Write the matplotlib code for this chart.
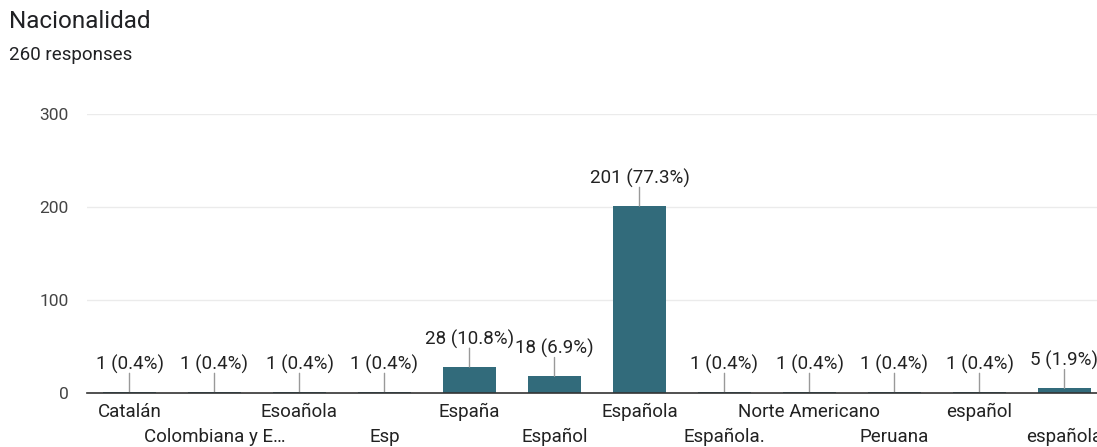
import matplotlib.pyplot as plt
import numpy as np

plt.rcParams['font.family'] = ['Roboto', 'DejaVu Sans']

categories = ['Catalán', 'Colombiana y E…', 'Esoañola', 'Esp', 'España', 'Español',
              'Española', 'Española.', 'Norte Americano', 'Peruana', 'español', 'española']
counts = [1, 1, 1, 1, 28, 18, 201, 1, 1, 1, 1, 5]
total = 260
yticks = [0, 100, 200, 300]

bar_color = '#326b7b'
text_color = '#444444'

fig = plt.figure(figsize=(10.97, 4.47), dpi=100)
fig.text(9 / 1097, 1 - 21 / 447, 'Nacionalidad', fontsize=17.5, color='#202124', va='center')
fig.text(9 / 1097, 1 - 55 / 447, '260 responses', fontsize=13.5, color='#202124', va='center')

# axes run past the right edge, like the cropped screenshot
ax = fig.add_axes([87 / 1097, 54 / 447, 1020 / 1097, 279 / 447])
x = np.arange(len(categories))
ax.bar(x, counts, width=0.62, color=bar_color, zorder=3)

for xi, c in zip(x, counts):
    label = f'{c} ({c / total * 100:.1f}%)'
    ax.annotate('', xy=(xi, c), xytext=(0, 13.5), textcoords='offset points',
                arrowprops=dict(arrowstyle='-', color='#999999', lw=1, shrinkA=0, shrinkB=0),
                zorder=4)
    ax.annotate(label, xy=(xi, c), xytext=(0, 20), textcoords='offset points',
                ha='center', va='center', fontsize=13.5, color='#222222', zorder=5)

ax.set_xlim(-0.5, len(categories) - 0.5)
ax.set_ylim(0, 300)
ax.set_yticks(yticks)
ax.set_yticklabels([str(t) for t in yticks], fontsize=12.5, color=text_color)
ax.set_xticks(x)
ax.set_xticklabels([])

# category names staggered on two rows
xtr = ax.get_xaxis_transform()
for i, (xi, c) in enumerate(zip(x, categories)):
    ypos = -0.068 if i % 2 == 0 else -0.158
    ax.text(xi, ypos, c, transform=xtr, ha='center', va='center',
            fontsize=13.5, color='#222222', clip_on=False)

ax.tick_params(axis='both', length=0)
ax.tick_params(axis='y', pad=13)

ax.grid(axis='y', color='#ebebeb', lw=1, zorder=0)
for s in ['left', 'right', 'top']:
    ax.spines[s].set_visible(False)
ax.spines['bottom'].set_color('#333333')
ax.spines['bottom'].set_linewidth(1.2)
ax.spines['bottom'].set_zorder(6)

fig.savefig('out.png', dpi=100)
